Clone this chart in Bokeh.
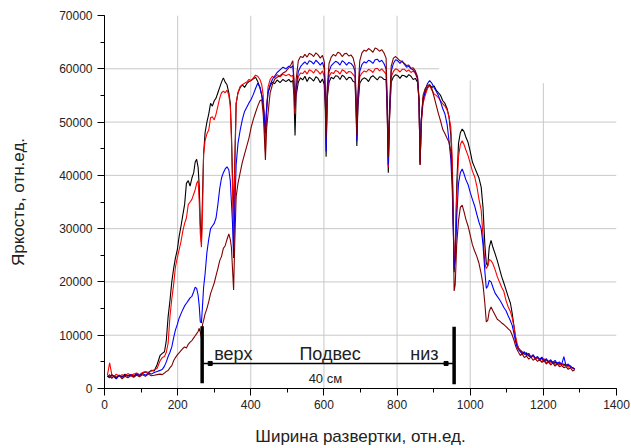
from bokeh.plotting import figure
from bokeh.models import Range1d, SingleIntervalTicker, NumeralTickFormatter, Label
from bokeh.embed import file_html
from bokeh.resources import INLINE

# ---------------- data ----------------
x_pos = [
    8, 14, 20, 26, 32, 40, 48, 56, 64, 72,
    80, 88, 96, 104, 112, 120, 128, 136, 144, 152,
    158, 164, 169, 174, 179, 184, 189, 194, 199, 204,
    209, 214, 219, 224, 229, 234, 239, 244, 248, 252,
    256, 259, 262, 265, 268, 271, 275, 280, 285, 290,
    295, 300, 305, 310, 315, 320, 325, 330, 335, 340,
    344, 347, 350, 353, 356, 360, 365, 371, 377, 383,
    389, 395, 401, 407, 413, 419, 425, 430, 434, 437,
    440, 443, 447, 453, 459, 465, 472, 480, 488, 496,
    504, 510, 515, 518, 521, 524, 530, 536, 542, 548,
    554, 560, 566, 572, 578, 584, 590, 596, 601, 604,
    606, 609, 614, 620, 626, 632, 638, 644, 650, 656,
    662, 668, 674, 680, 685, 688, 690, 693, 698, 704,
    710, 716, 722, 728, 734, 740, 746, 752, 758, 764,
    770, 773, 776, 779, 784, 790, 796, 802, 808, 814,
    820, 826, 832, 838, 844, 850, 856, 860, 863, 866,
    871, 877, 883, 889, 895, 901, 907, 913, 919, 925,
    931, 937, 942, 947, 951, 954, 956, 959, 963, 968,
    973, 978, 983, 988, 994, 1000, 1006, 1012, 1018, 1024,
    1030, 1035, 1040, 1044, 1048, 1052, 1057, 1062, 1068, 1074,
    1080, 1086, 1092, 1098, 1104, 1110, 1115, 1120, 1124, 1128,
    1132, 1137, 1142, 1148, 1154, 1160, 1166, 1172, 1178, 1184,
    1190, 1196, 1202, 1208, 1214, 1220, 1226, 1232, 1238, 1244,
    1250, 1256, 1262, 1268, 1274, 1280, 1286,
]

black = [
    2400, 2100, 2600, 2300, 1900, 2500, 2200, 2700, 2400, 2600,
    2300, 2800, 2500, 2900, 3100, 3000, 3400, 3300, 4500, 6200,
    6600, 6900, 9000, 13500, 16500, 20000, 22500, 24500, 26000, 28500,
    30400, 32500, 34500, 38500, 39000, 38000, 39500, 40500, 42500, 43000,
    41500, 38000, 31000, 27500, 36000, 44000, 48000, 50000, 51500, 53500,
    53000, 54000, 54500, 55500, 56500, 57500, 58300, 57500, 57000, 55500,
    53500, 48000, 40000, 31000, 42000, 53500, 55500, 56500, 57000, 56500,
    57200, 57600, 57800, 58100, 58400, 57600, 56500, 55000, 53500, 51000,
    47000, 52000, 55500, 56800, 57500, 57200, 57900, 57400, 58000, 57600,
    58000, 57500, 57800, 55000, 47500, 55000, 57500, 58300, 57900, 58600,
    57600, 58400, 58100, 57700, 58500, 58200, 57400, 58100, 57000, 52000,
    43500, 54500, 57500, 58400, 58100, 58700, 58600, 58000, 58800, 58500,
    57900, 58400, 58300, 57600, 57500, 52000, 45500, 53000, 57300, 58000,
    58300, 58100, 57600, 58400, 58700, 58300, 57900, 58500, 58400, 58000,
    58000, 52000, 40500, 50000, 57500, 58500, 58900, 58700, 58200, 58800,
    58700, 58400, 58900, 58600, 58000, 58200, 57500, 54000, 42000, 50000,
    54500, 55500, 56500, 57000, 56500, 56800, 56000, 55500, 55000, 54000,
    53500, 52500, 51000, 47500, 41000, 30000, 21800, 25000, 38000, 46000,
    48000, 48700, 48200, 47200, 46200, 44500, 42500, 41500, 40500, 39500,
    37800, 34000, 27000, 23500, 23000, 26500, 27800, 26500, 25300, 24000,
    22500, 21000, 19800, 18500, 17200, 16000, 14000, 11500, 9500, 8200,
    7600, 7200, 6900, 6400, 6700, 6100, 5900, 6300, 5600, 5800,
    5300, 5700, 5100, 5400, 4900, 5200, 4700, 5000, 4500, 4800,
    4400, 4600, 4200, 4400, 4000, 3900, 3700,
]

red = [
    2500, 4800, 2600, 2200, 2700, 2300, 2600, 2400, 2800, 2500,
    2700, 2900, 2600, 3000, 3200, 2900, 3300, 3500, 3800, 5200,
    5800, 6000, 6800, 8500, 13500, 16800, 19500, 22800, 24500, 26000,
    27500, 29500, 31000, 32000, 34500, 35000, 35500, 36500, 37300, 38500,
    39000, 35000, 29000, 26500, 33000, 44000, 46500, 47800, 48500, 50800,
    51000, 50400, 51500, 53000, 54500, 55500, 55800, 55500, 56000, 55000,
    53000, 47000, 38000, 27000, 40000, 53500, 55500, 56700, 57000, 57300,
    57500, 58000, 57800, 58300, 58800, 58600, 58000, 57000, 55000, 50000,
    44500, 52000, 56500, 58000, 58600, 58300, 58900, 58500, 59000, 58700,
    59000, 58600, 58800, 56000, 51500, 56000, 58500, 59200, 59100, 59600,
    59000, 59800, 59600, 59200, 59900, 59500, 59000, 59600, 58500, 54000,
    46000, 55000, 58500, 59300, 59100, 59700, 59500, 59000, 59800, 59600,
    59100, 59500, 59400, 58900, 58500, 53000, 47000, 54000, 58500, 59200,
    59600, 59400, 59900, 59700, 59300, 60000, 60100, 59600, 60000, 59500,
    59000, 52500, 41500, 50000, 58500, 59500, 60000, 59800, 59400, 59900,
    59900, 59500, 59800, 59300, 59600, 59100, 58000, 54000, 42000, 49500,
    53500, 55000, 56300, 56800, 56000, 55300, 55000, 54600, 54000, 53400,
    53000, 52200, 51000, 49000, 43000, 31000, 23500, 26000, 36000, 43500,
    45800, 46500, 45800, 44800, 43700, 42300, 40800, 39800, 38000, 35500,
    33500, 28500, 23500, 22500, 23000, 24200, 24000, 23400, 22300, 21000,
    20000, 19000, 18200, 16500, 15300, 14400, 13200, 11500, 9800, 8500,
    7600, 7000, 6600, 6800, 6200, 6500, 5800, 6100, 5500, 5900,
    5400, 5000, 5600, 4800, 5200, 4700, 5100, 4500, 4900, 4400,
    4700, 4200, 4500, 4000, 4300, 3800, 3600,
]

blue = [
    2300, 2000, 2500, 2200, 1800, 2400, 2100, 2500, 2300, 2600,
    2200, 2700, 2400, 2800, 2500, 2900, 2700, 3000, 3200, 3400,
    3600, 4200, 5000, 6000, 6800, 7800, 9500, 11000, 12000, 13200,
    14000, 14800, 15500, 16000, 16500, 17000, 17300, 18200, 19000, 18800,
    17500, 15500, 12500, 12300, 15500, 19000, 21500, 25500, 28000, 30000,
    30500, 31000, 32000, 34500, 37500, 39500, 40500, 41200, 41600, 41000,
    39000, 35000, 31000, 24500, 33000, 42000, 46000, 48500, 50500, 52000,
    52800, 53600, 54300, 55200, 56300, 57300, 56500, 55000, 53000, 51000,
    48000, 52500, 55500, 57000, 58000, 58600, 59300, 59800, 60300, 60000,
    60500, 60200, 60600, 57500, 53000, 56500, 59500, 60400, 60900, 61300,
    60800, 61500, 61300, 60900, 61600, 61200, 60700, 61200, 60000, 54500,
    44500, 55500, 59500, 60600, 61000, 61400, 61200, 60700, 61500, 61200,
    60700, 61200, 61000, 60500, 59500, 53500, 46500, 54500, 59500, 60800,
    61300, 61100, 61600, 61400, 61000, 61700, 61800, 61300, 61600, 61000,
    60000, 53000, 42000, 51000, 59500, 61000, 61700, 61500, 61000, 61500,
    60800, 60300, 60500, 60000, 59800, 59300, 58300, 54500, 42500, 50500,
    54000, 56000, 57200, 57800, 57300, 56500, 55800, 55000, 53800, 52500,
    51500, 49500, 46500, 43000, 37000, 29000, 22500, 24000, 32000, 38500,
    40500, 41200, 40300, 39200, 38300, 36800, 35500, 34300, 32700, 31200,
    30000, 27000, 22000, 18800, 19200, 20300, 20000, 19000, 17900, 17300,
    16700, 16000, 15200, 14600, 13600, 12700, 11800, 10200, 8800, 7800,
    7300, 6900, 6500, 6900, 6200, 6600, 5900, 6300, 5700, 6000,
    5500, 5900, 5200, 5600, 5000, 5400, 4800, 5300, 4700, 5000,
    4500, 6000, 4300, 4600, 4100, 3900, 3600,
]

dark_red = [
    2200, 2600, 1900, 2400, 2100, 2500, 1800, 2300, 2000, 2400,
    2100, 2500, 2200, 2600, 2300, 2700, 2400, 2500, 2600, 2700,
    2600, 2900, 3200, 3400, 3900, 4300, 5200, 5800, 6300, 6700,
    7100, 7500, 7800, 7600, 8300, 8700, 9000, 9500, 9900, 10300,
    10700, 11300, 10600, 9500, 12000, 12800, 14000, 15000, 16300, 17800,
    18800, 19800, 21200, 22500, 24000, 24800, 26300, 26800, 28000, 29000,
    28000, 26500, 22500, 18500, 27000, 36000, 38500, 40500, 42500, 44000,
    45500, 47000, 49000, 50500, 51800, 53000, 54000, 54200, 51500, 47500,
    42900, 48500, 51500, 55500, 57000, 58000, 58400, 58700, 59200, 59500,
    60200, 60800, 61500, 58000, 52500, 58000, 61500, 62300, 62100, 62700,
    62200, 62900, 62700, 62300, 63000, 62600, 62000, 62500, 61300, 56000,
    47000, 56500, 61000, 62200, 62700, 62400, 63100, 62900, 62300, 62800,
    62900, 62400, 62600, 62000, 60500, 54500, 47500, 55500, 61500, 63000,
    63500, 63300, 63800, 63500, 63100, 63900, 63700, 63300, 63600, 63000,
    62000, 54000, 43300, 52000, 60500, 62000, 62300, 61900, 61500, 61300,
    61000, 60600, 60700, 60100, 60200, 59600, 58500, 54000, 42000, 50000,
    55000, 56300, 56900, 57000, 56300, 54800, 53200, 51600, 50200, 48600,
    47800, 46900, 46200, 44500, 40000, 30000, 18300, 19500, 27000, 31500,
    34000, 34400, 33200, 31800, 30500, 28800, 27000, 25800, 24800, 23500,
    21500, 19500, 16000, 12500, 12800, 14500, 15300, 14600, 13800, 13000,
    12700, 12300, 12000, 11600, 11200, 10800, 10000, 9000, 8000, 7300,
    6800, 6200, 6500, 5800, 6100, 5500, 5900, 5300, 5600, 5100,
    5400, 4900, 5200, 4600, 5000, 4400, 4800, 4200, 4600, 4100,
    4300, 3900, 4100, 3600, 3900, 3300, 3500,
]

series_colors = ["#000000", "#ff0000", "#0000ff", "#800000"]

for s in (black, red, blue, dark_red):
    assert len(s) == len(x_pos), (len(s), len(x_pos))

# ---------------- figure ----------------
FONT = "Liberation Sans"

p = figure(width=631, height=448, output_backend="svg", toolbar_location=None,
           x_range=Range1d(0, 1400), y_range=Range1d(0, 70000),
           min_border_left=104, min_border_right=15,
           min_border_top=15, min_border_bottom=60)
p.outline_line_color = None
p.background_fill_color = "white"
p.border_fill_color = "white"
p.xgrid.visible = False
p.ygrid.visible = False

# partial grid, as in the reference
GRID = "#c8c8c8"
p.segment(x0=[200, 400, 600, 800, 1000, 1200], y0=[0] * 6,
          x1=[200, 400, 600, 800, 1000, 1200],
          y1=[70000, 70000, 70000, 70000, 57800, 57300],
          line_color=GRID, line_width=1)
p.segment(x0=[0] * 6, y0=[10000, 20000, 30000, 40000, 50000, 60000],
          x1=[1400, 1400, 1400, 1400, 1400, 915],
          y1=[10000, 20000, 30000, 40000, 50000, 60000],
          line_color=GRID, line_width=1)

for s, c in zip((black, red, blue, dark_red), series_colors):
    p.line(x_pos, s, line_color=c, line_width=1.1)

# annotation: bars, arrow, texts
p.segment(x0=[267, 956], y0=[1000, 800], x1=[267, 956], y1=[11700, 11600],
          line_color="black", line_width=3.5)
p.segment(x0=[270], y0=[4700], x1=[953], y1=[4700], line_color="black", line_width=1.5)
p.scatter(x=[289, 934], y=[4700, 4700], marker="square", size=4,
          fill_color="black", line_color="black")

for txt, xx in (("верх", 300), ("Подвес", 533), ("низ", 836)):
    p.add_layout(Label(x=xx, y=6400, text=txt, text_font=FONT, text_font_size="18px",
                       text_color="#222222", text_baseline="alphabetic"))
p.add_layout(Label(x=604, y=1930, text="40 см", text_font=FONT, text_font_size="13px",
                   text_color="#222222", text_align="center", text_baseline="alphabetic"))

# axes
p.xaxis.ticker = SingleIntervalTicker(interval=200, num_minor_ticks=2)
p.yaxis.ticker = SingleIntervalTicker(interval=10000, num_minor_ticks=2)
p.yaxis.formatter = NumeralTickFormatter(format="0")
for ax in (p.xaxis[0], p.yaxis[0]):
    ax.axis_line_color = "black"
    ax.axis_line_width = 1
    ax.major_tick_line_color = "black"
    ax.minor_tick_line_color = "black"
    ax.major_tick_in = 0
    ax.major_tick_out = 7
    ax.minor_tick_in = 0
    ax.minor_tick_out = 4
    ax.major_label_text_font = FONT
    ax.major_label_text_font_size = "12px"
    ax.major_label_text_color = "#222222"
    ax.axis_label_text_font = FONT
    ax.axis_label_text_font_size = "17px"
    ax.axis_label_text_font_style = "normal"
    ax.axis_label_text_color = "#222222"
p.xaxis.axis_label = "Ширина развертки, отн.ед."
p.yaxis.axis_label = "Яркость, отн.ед."
p.xaxis.major_label_standoff = 4
p.yaxis.major_label_standoff = 5
p.xaxis.axis_label_standoff = 15
p.yaxis.axis_label_standoff = 28

open("out.html", "w").write(file_html(p, INLINE))
